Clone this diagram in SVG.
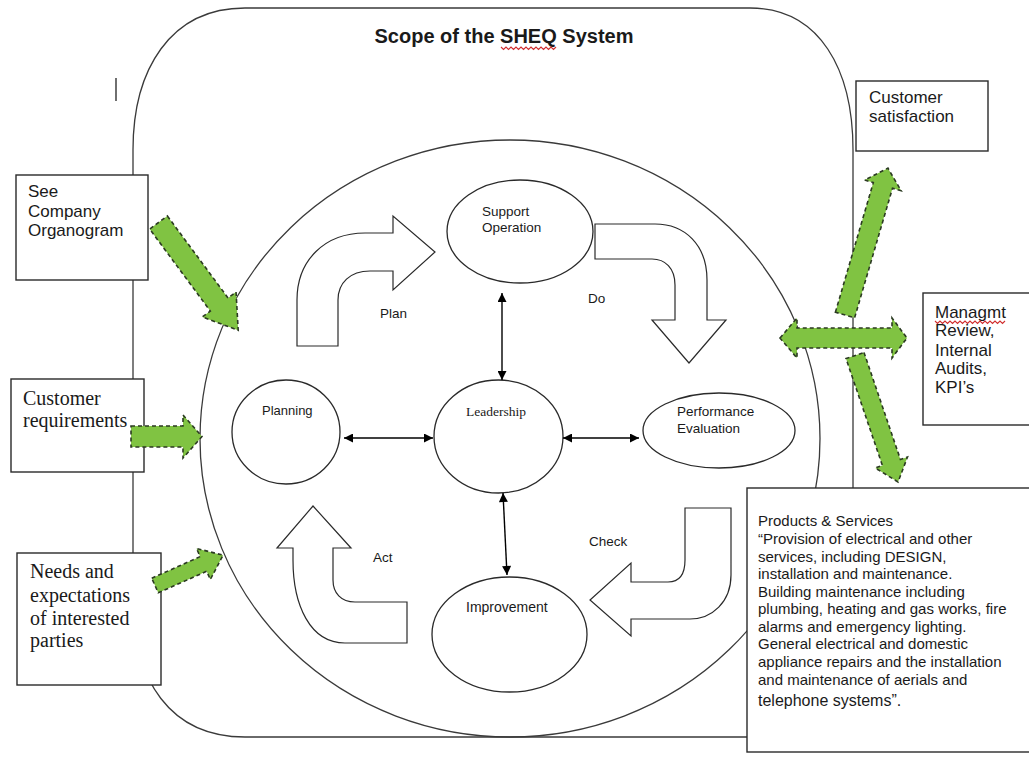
<svg xmlns="http://www.w3.org/2000/svg" width="1029" height="757" viewBox="0 0 1029 757">
<style>
  .frame { fill: none; stroke: #3a3a3a; stroke-width: 1.3; }
  .node { fill: #fff; stroke: #2a2a2a; stroke-width: 1.3; }
  .box { fill: #fff; stroke: #2a2a2a; stroke-width: 1.4; }
  .flow { fill: #fff; stroke: #2a2a2a; stroke-width: 1.2; stroke-linejoin: miter; }
  .green { fill: #80c342; stroke: #2b3a22; stroke-width: 1.6; stroke-dasharray: 4 3; }
  .conn { stroke: #000; stroke-width: 1.4; fill: none; }
  .sans { font-family: "Liberation Sans", Arial, sans-serif; fill: #1a1a1a; }
  .serif { font-family: "Liberation Serif", "Times New Roman", serif; fill: #1a1a1a; }
  .squig { fill: none; stroke: #d03030; stroke-width: 1.1; }
</style>
<defs>
  <marker id="ah" viewBox="0 0 10 10" refX="10" refY="5" markerWidth="10" markerHeight="9" markerUnits="userSpaceOnUse" orient="auto-start-reverse">
    <path d="M0,0 L10,5 L0,10 z" fill="#000"/>
  </marker>
</defs>

<!-- outer scope frame -->
<g id="scope-frame">
  <path class="frame" d="M245,8 L750,8 C820,8 853,70 853,150 L853,650 C853,710 820,737 760,737 L245,737 C170,737 133,680 133,600 L133,150 C133,70 170,8 245,8 Z"/>
  <ellipse class="frame" cx="510" cy="438.5" rx="310" ry="298.5"/>
  <line x1="116" y1="78" x2="116" y2="101" stroke="#222" stroke-width="1.3"/>
  <text class="sans" x="504" y="43" font-size="20" font-weight="bold" text-anchor="middle">Scope of the SHEQ System</text>
  <path class="squig" d="M501,47 l2.5,2.5 l2.5,-2.5 l2.5,2.5 l2.5,-2.5 l2.5,2.5 l2.5,-2.5 l2.5,2.5 l2.5,-2.5 l2.5,2.5 l2.5,-2.5 l2.5,2.5 l2.5,-2.5 l2.5,2.5 l2.5,-2.5 l2.5,2.5 l2.5,-2.5 l2.5,2.5 l2.5,-2.5 l2.5,2.5 l2.5,-2.5 l2.5,2.5 l2.5,-2.5"/>
</g>

<!-- PDCA flow arrows -->
<g id="plan-arrow">
  <path class="flow" d="M297,346 L297,300 C297,260 325,233 365,233 L393,233 L393,216 L435,252 L393,290 L393,271 L370,271 C350,271 338,283 338,300 L338,346 Z"/>
  <text class="sans" x="380" y="318" font-size="13.5">Plan</text>
</g>
<g id="do-arrow">
  <path class="flow" d="M595,224 L655,224 C685,224 707,245 707,280 L707,320 L726,320 L689,363 L652,320 L675,320 L675,285 C675,268 665,259 652,259 L595,259 Z"/>
  <text class="sans" x="588" y="303" font-size="13.5">Do</text>
</g>
<g id="check-arrow">
  <path class="flow" d="M685,508 L731,508 L731,575 C731,602 712,619 690,619 L631,619 L631,636 L590,600 L631,563 L631,582 L668,582 C679,582 685,575 685,560 Z"/>
  <text class="sans" x="589" y="546" font-size="13.5">Check</text>
</g>
<g id="act-arrow">
  <path class="flow" d="M313,506 L351,548 L333,548 L333,580 C333,593 341,602 355,602 L407,602 L407,643 L345,643 C310,643 293,605 293,560 L293,548 L277,548 Z"/>
  <text class="sans" x="373" y="562" font-size="13.5">Act</text>
</g>

<!-- nodes -->
<g id="support-operation">
  <ellipse class="node" cx="520" cy="231.5" rx="73" ry="51.5"/>
  <text class="sans" x="482" y="216" font-size="13.5">Support</text>
  <text class="sans" x="482" y="232" font-size="13.5">Operation</text>
</g>
<g id="planning">
  <ellipse class="node" cx="286" cy="432" rx="54" ry="52"/>
  <text class="sans" x="262" y="415" font-size="13">Planning</text>
</g>
<g id="leadership">
  <ellipse class="node" cx="498.5" cy="436.5" rx="64.5" ry="56.5"/>
  <text class="serif" x="466" y="416" font-size="13.5">Leadership</text>
</g>
<g id="performance-evaluation">
  <ellipse class="node" cx="719" cy="430.5" rx="76" ry="37.5"/>
  <text class="sans" x="677" y="416" font-size="13.5">Performance</text>
  <text class="sans" x="677" y="433" font-size="13.5">Evaluation</text>
</g>
<g id="improvement">
  <ellipse class="node" cx="509.5" cy="634.5" rx="77.5" ry="57.5"/>
  <text class="sans" x="466" y="612" font-size="14">Improvement</text>
</g>

<!-- connectors -->
<g id="connectors">
  <line class="conn" x1="502" y1="293" x2="502" y2="380" marker-start="url(#ah)" marker-end="url(#ah)"/>
  <line class="conn" x1="344" y1="438" x2="433" y2="438" marker-start="url(#ah)" marker-end="url(#ah)"/>
  <line class="conn" x1="563" y1="438" x2="639" y2="438" marker-start="url(#ah)" marker-end="url(#ah)"/>
  <line class="conn" x1="503" y1="493" x2="507" y2="575" marker-start="url(#ah)" marker-end="url(#ah)"/>
</g>

<!-- input / output boxes -->
<g id="organogram-box">
  <rect class="box" x="16" y="175" width="132" height="105"/>
  <text class="sans" x="28" y="197" font-size="17">See</text>
  <text class="sans" x="28" y="217" font-size="17">Company</text>
  <text class="sans" x="28" y="236" font-size="17">Organogram</text>
</g>
<g id="customer-requirements-box">
  <rect class="box" x="11" y="379" width="133" height="93"/>
  <text class="serif" x="23" y="405" font-size="20">Customer</text>
  <text class="serif" x="23" y="427" font-size="20">requirements</text>
</g>
<g id="needs-box">
  <rect class="box" x="17" y="553" width="144" height="132"/>
  <text class="serif" x="30" y="578" font-size="20">Needs and</text>
  <text class="serif" x="30" y="602" font-size="20">expectations</text>
  <text class="serif" x="30" y="625" font-size="20">of interested</text>
  <text class="serif" x="30" y="647" font-size="20">parties</text>
</g>
<g id="customer-satisfaction-box">
  <rect class="box" x="856" y="81" width="132" height="70"/>
  <text class="sans" x="869" y="103" font-size="17">Customer</text>
  <text class="sans" x="869" y="122" font-size="17">satisfaction</text>
</g>
<g id="management-review-box">
  <rect class="box" x="923" y="293" width="120" height="132"/>
  <text class="sans" x="935" y="318" font-size="17">Managmt</text>
  <path class="squig" d="M935,321 l2.5,2.5 l2.5,-2.5 l2.5,2.5 l2.5,-2.5 l2.5,2.5 l2.5,-2.5 l2.5,2.5 l2.5,-2.5 l2.5,2.5 l2.5,-2.5 l2.5,2.5 l2.5,-2.5 l2.5,2.5 l2.5,-2.5 l2.5,2.5 l2.5,-2.5 l2.5,2.5 l2.5,-2.5 l2.5,2.5 l2.5,-2.5 l2.5,2.5 l2.5,-2.5 l2.5,2.5 l2.5,-2.5 l2.5,2.5 l2.5,-2.5 l2.5,2.5 l2.5,-2.5"/>
  <text class="sans" x="935" y="336" font-size="17">Review,</text>
  <text class="sans" x="935" y="356" font-size="17">Internal</text>
  <text class="sans" x="935" y="374" font-size="17">Audits,</text>
  <text class="sans" x="935" y="393" font-size="17">KPI’s</text>
</g>
<g id="products-services-box">
  <rect class="box" x="747" y="488" width="300" height="264"/>
  <g class="sans" font-size="15">
    <text x="758" y="526">Products &amp; Services</text>
    <text x="758" y="544">“Provision of electrical and other</text>
    <text x="758" y="562">services, including DESIGN,</text>
    <text x="758" y="579">installation and maintenance.</text>
    <text x="758" y="597">Building maintenance including</text>
    <text x="758" y="614">plumbing, heating and gas works, fire</text>
    <text x="758" y="632">alarms and emergency lighting.</text>
    <text x="758" y="649">General electrical and domestic</text>
    <text x="758" y="667">appliance repairs and the installation</text>
    <text x="758" y="685">and maintenance of aerials and</text>
    <text x="758" y="706" font-size="16">telephone systems”.</text>
  </g>
</g>

<!-- green block arrows -->
<g id="green-arrows">
  <polygon class="green" transform="translate(158.5,222.5) rotate(53.5)" points="0,-11 102,-11 102,-21 134,0 102,21 102,11 0,11"/>
  <polygon class="green" points="131,426 183,426 183,415 202,436.5 183,458 183,447 131,447"/>
  <polygon class="green" transform="translate(155,585.5) rotate(-24)" points="0,-8 53,-8 53,-17 74.5,0 53,17 53,8 0,8"/>
  <polygon class="green" transform="translate(845,315) rotate(-73.7)" points="0,-10 135,-10 135,-19 153,0 135,19 135,10 0,10"/>
  <polygon class="green" points="780,338 797,318 797,328 892,328 892,318 907,338 892,358 892,348 797,348 797,358"/>
  <polygon class="green" transform="translate(855,355.5) rotate(71.2)" points="0,-9.5 113,-9.5 113,-17 133.6,0 113,17 113,9.5 0,9.5"/>
</g>
</svg>
